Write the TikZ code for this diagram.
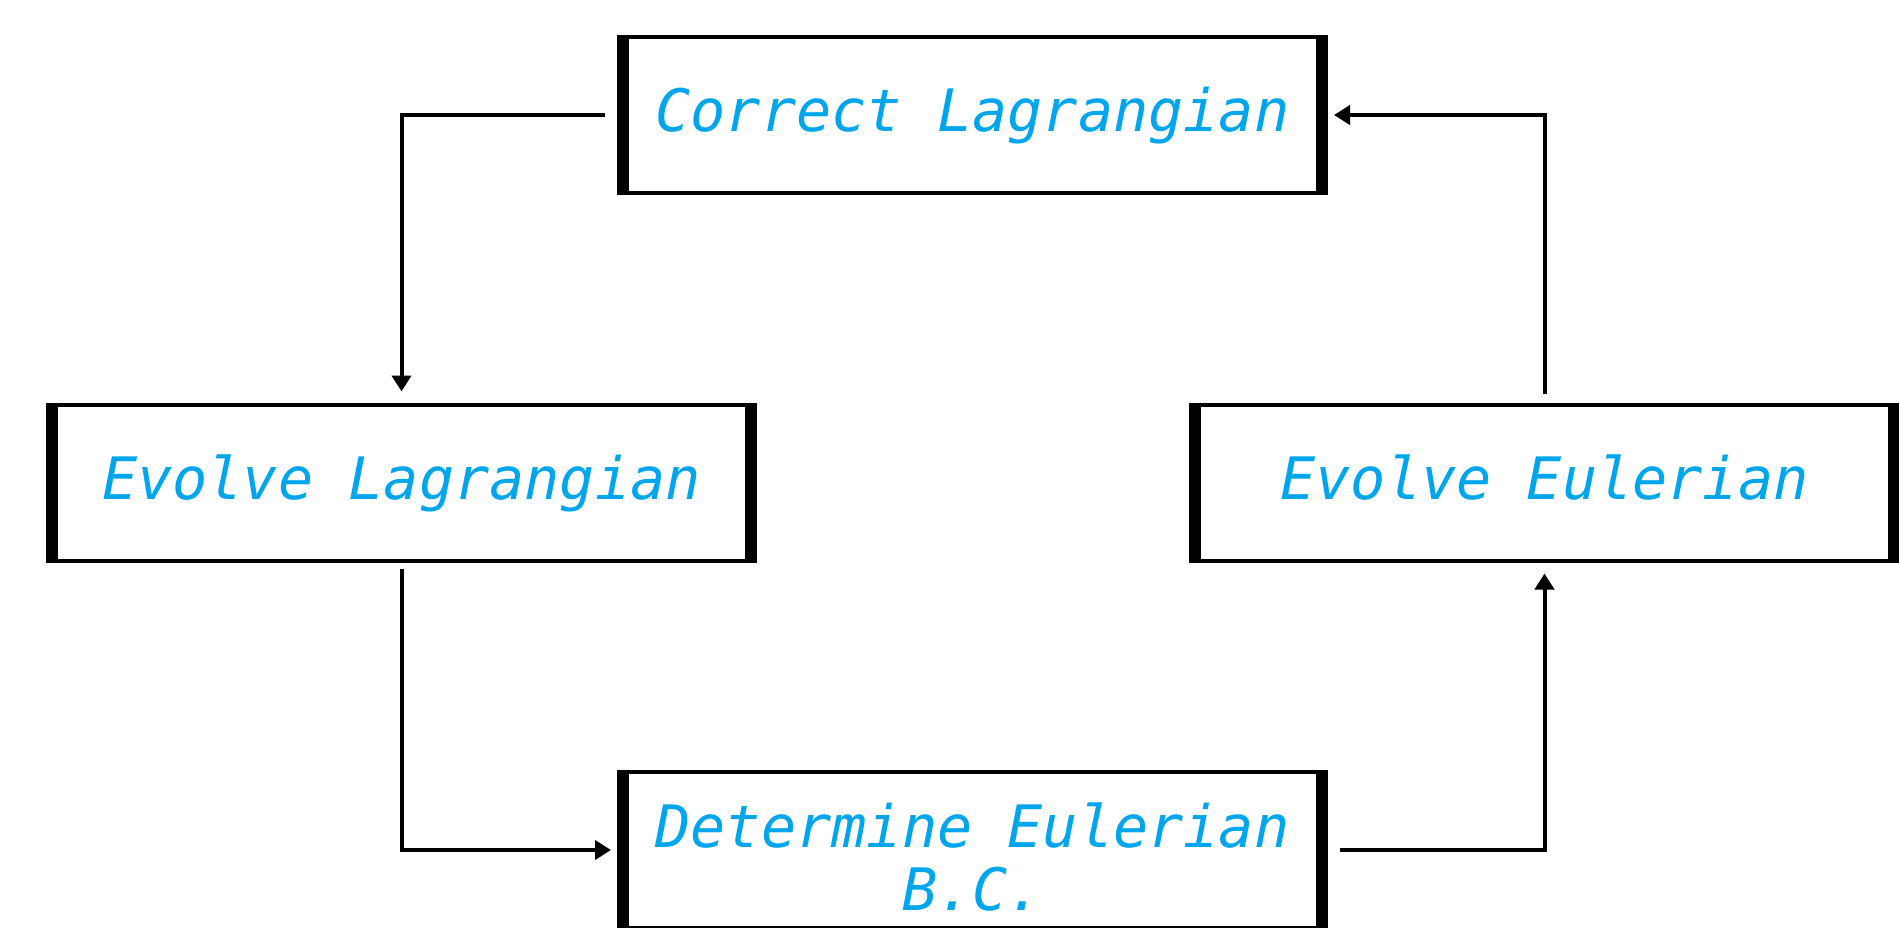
\documentclass[tikz,border=0pt]{standalone}
\usepackage{fontspec}
\newfontfamily\diagfont{DejaVu Sans Mono}
\usetikzlibrary{arrows.meta}
\definecolor{txtblue}{RGB}{0,166,237}
\begin{document}
\begin{tikzpicture}[x=1pt,y=1pt,
  box/.style={draw, line width=4pt, minimum width=707pt, minimum height=156pt,
    inner sep=0pt, outer sep=0pt, font=\diagfont\itshape\fontsize{58.5}{63}\selectfont,
    text=txtblue, align=center},
  oneline/.style={text height=44pt, text depth=11pt},
  side/.style={line width=12pt, line cap=butt},
  arr/.style={line width=4pt, -{Triangle[length=16pt,width=19pt]}}]
\useasboundingbox (0,0) rectangle (1899,-927);
\node[box,oneline] (cor) at (972.5,-115) {Correct Lagrangian};
\node[box,oneline] (lag) at (401.5,-482.5) {Evolve Lagrangian};
\node[box,oneline] (eul) at (1544.5,-482.5) {Evolve Eulerian};
\node[box] (bc) at (972.5,-850) {\raisebox{-7pt}[\height][\depth]{Determine Eulerian}\\\raisebox{-7pt}[\height][\depth]{B.C.}};
\foreach \n in {cor,lag,eul,bc} {
  \draw[side] ([xshift=4pt,yshift=2pt]\n.north west) -- ([xshift=4pt,yshift=-2pt]\n.south west);
  \draw[side] ([xshift=-4pt,yshift=2pt]\n.north east) -- ([xshift=-4pt,yshift=-2pt]\n.south east);
}
\draw[arr] ([xshift=-14pt]cor.west) -| ([yshift=13pt]lag.north);
\draw[arr] ([yshift=-8pt]lag.south) |- ([xshift=-8pt]bc.west);
\draw[arr] ([xshift=14pt]bc.east) -| ([yshift=-13pt]eul.south);
\draw[arr] ([yshift=11pt]eul.north) |- ([xshift=8pt]cor.east);
\end{tikzpicture}
\end{document}
